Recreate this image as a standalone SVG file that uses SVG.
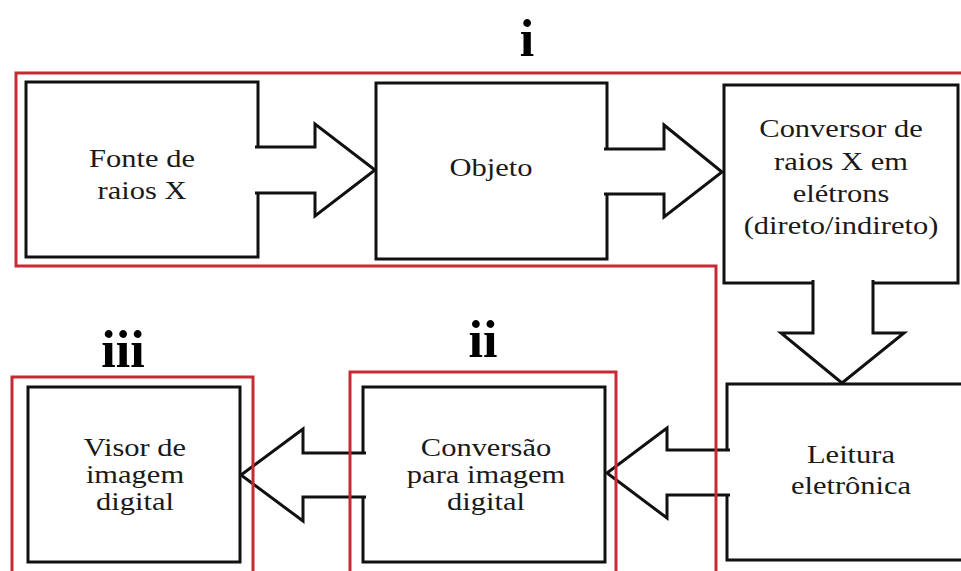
<svg xmlns="http://www.w3.org/2000/svg" width="961" height="571" viewBox="0 0 961 571">
  <style>
    .bg { fill: #ffffff; }
    .box { fill: #ffffff; stroke: #111111; stroke-width: 3; }
    .arrow { fill: #ffffff; stroke: #111111; stroke-width: 3; stroke-linejoin: miter; }
    .region { fill: none; stroke: #c62a33; stroke-width: 3; }
    .lbl { font-family: "Liberation Serif", "Times New Roman", serif; font-size: 25px; fill: #1a1a1a; text-anchor: middle; }
    .tag { font-family: "Liberation Serif", "Times New Roman", serif; font-size: 52px; font-weight: bold; fill: #000000; text-anchor: middle; }
  </style>

  <rect class="bg" x="0" y="0" width="961" height="571"/>

  <!-- blocks -->
  <g id="fonte">
    <rect class="box" x="26" y="82" width="232" height="175"/>
    <text class="lbl" transform="translate(142 0) scale(1.22 1)"><tspan x="0" y="167">Fonte de</tspan><tspan x="0" y="199">raios X</tspan></text>
  </g>
  <g id="objeto">
    <rect class="box" x="376" y="83" width="231" height="176"/>
    <text class="lbl" transform="translate(491 0) scale(1.22 1)"><tspan x="0" y="176">Objeto</tspan></text>
  </g>
  <g id="conversor">
    <rect class="box" x="724" y="85" width="234" height="198"/>
    <text class="lbl" transform="translate(841 0) scale(1.22 1)"><tspan x="0" y="137">Conversor de</tspan><tspan x="0" y="170">raios X em</tspan><tspan x="0" y="202">elétrons</tspan><tspan x="0" y="234">(direto/indireto)</tspan></text>
  </g>
  <g id="leitura">
    <rect class="box" x="727" y="384" width="260" height="176"/>
    <text class="lbl" transform="translate(851 0) scale(1.22 1)"><tspan x="0" y="463">Leitura</tspan><tspan x="0" y="494">eletrônica</tspan></text>
  </g>
  <g id="conversao">
    <rect class="box" x="363" y="387" width="242" height="175"/>
    <text class="lbl" transform="translate(486 0) scale(1.22 1)"><tspan x="0" y="456">Conversão</tspan><tspan x="0" y="483">para imagem</tspan><tspan x="0" y="510">digital</tspan></text>
  </g>
  <g id="visor">
    <rect class="box" x="28" y="387" width="212" height="175"/>
    <text class="lbl" transform="translate(135 0) scale(1.22 1)"><tspan x="0" y="456">Visor de</tspan><tspan x="0" y="483">imagem</tspan><tspan x="0" y="510">digital</tspan></text>
  </g>

  <!-- block arrows; each opens out of its source block -->
  <g id="connectors">
    <path class="arrow" d="M 255 147 H 315 V 124 L 375 170 L 315 216 V 193 H 255"/>
    <path class="arrow" d="M 604 149 H 664 V 125 L 722 172 L 664 217 V 194 H 604"/>
    <path class="arrow" d="M 813 280 V 333 H 781 L 842 383 L 904 333 H 873 V 280"/>
    <path class="arrow" d="M 730 450 H 667 V 428 L 607 473 L 667 518 V 495 H 730"/>
    <path class="arrow" d="M 366 453 H 303 V 429 L 241 475 L 303 521 V 497 H 366"/>
  </g>

  <!-- stage outlines, drawn over the blocks and arrows -->
  <g id="regions">
    <path class="region" d="M 966 73 H 16 V 266 H 716 V 575"/>
    <path class="region" d="M 350 575 V 372 H 616 V 575"/>
    <path class="region" d="M 12 575 V 377 H 253 V 575"/>
    <text class="tag" x="527" y="56">i</text>
    <text class="tag" x="483" y="357">ii</text>
    <text class="tag" x="123" y="367">iii</text>
  </g>
</svg>
